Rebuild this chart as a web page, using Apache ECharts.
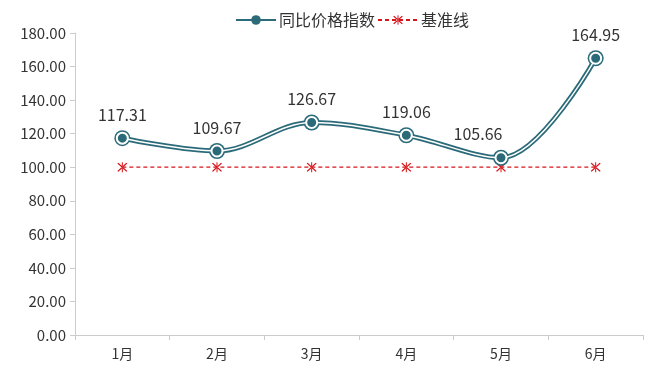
<!DOCTYPE html>
<html>
<head>
<meta charset="utf-8">
<script src="https://cdn.jsdelivr.net/npm/echarts@6/dist/echarts.min.js"></script>
<style>
html,body{margin:0;padding:0;background:#fff;}
#main{width:659px;height:376px;}
</style>
</head>
<body>
<div id="main"></div>
<script>
// 月份
var months = ['1月', '2月', '3月', '4月', '5月', '6月'];
// 同比价格指数
var indexValues = [117.31, 109.67, 126.67, 119.06, 105.66, 164.95];
// 基准线
var baseValues = [100, 100, 100, 100, 100, 100];

var fontName = '"Noto Sans CJK SC", "Microsoft YaHei", sans-serif';
var teal = '#2b6b79';
var red = '#d9141b';
var smoothness = 0.35;
// 米字形标记
var starPath = 'path://M9,0h2v20h-2z M0,2.5L2,1L20,17.5L18,19Z M20,2.5L18,1L0,17.5L2,19Z';

var myChart = echarts.init(document.getElementById('main'));

var labelData = indexValues.map(function (v, i) {
    if (i === 4) {
        return { value: v, label: { offset: [-23, 0] } };
    }
    return v;
});

var option = {
    animation: false,
    textStyle: { fontFamily: fontName },
    legend: {
        top: 7,
        left: 230,
        itemGap: 2,
        itemWidth: 40,
        itemHeight: 12,
        data: ['同比价格指数', '基准线'],
        textStyle: { fontSize: 16, color: '#333', fontFamily: fontName, padding: [0, 0, 0, -2] }
    },
    grid: { left: 75, right: 16, top: 33, bottom: 41 },
    xAxis: {
        type: 'category',
        data: months,
        axisLine: { lineStyle: { color: '#ccc' } },
        axisTick: { show: true, lineStyle: { color: '#ccc' } },
        axisLabel: { color: '#333', fontSize: 14, margin: 12 }
    },
    yAxis: {
        type: 'value',
        min: 0,
        max: 180,
        interval: 20,
        axisLine: { show: true, lineStyle: { color: '#ccc' } },
        axisTick: { show: true, lineStyle: { color: '#ccc' } },
        splitLine: { show: false },
        axisLabel: {
            color: '#333',
            fontSize: 15,
            margin: 9,
            formatter: function (v) { return v.toFixed(2); }
        }
    },
    series: [
        {
            // 外层粗线
            name: '同比价格指数',
            type: 'line',
            smooth: smoothness,
            data: indexValues,
            symbol: 'circle',
            symbolSize: 16,
            z: 2,
            lineStyle: { color: teal, width: 5 },
            itemStyle: { color: teal }
        },
        {
            // 内层白线
            name: '同比价格指数内',
            type: 'line',
            smooth: smoothness,
            data: labelData,
            symbol: 'circle',
            symbolSize: 11,
            z: 3,
            lineStyle: { color: '#fff', width: 1.5 },
            itemStyle: { color: teal, borderColor: '#fff', borderWidth: 2 },
            label: {
                show: true,
                position: 'top',
                distance: 9,
                color: '#333',
                fontSize: 16,
                formatter: function (p) { return p.value.toFixed(2); }
            }
        },
        {
            name: '基准线',
            type: 'line',
            data: baseValues,
            symbol: starPath,
            symbolSize: 10,
            z: 1,
            lineStyle: { color: red, width: 1.2, type: [4, 3] },
            itemStyle: { color: red }
        }
    ]
};
myChart.setOption(option);
</script>
</body>
</html>
